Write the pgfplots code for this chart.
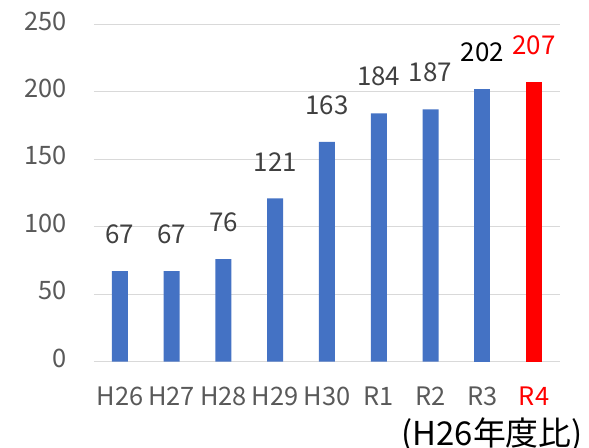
\documentclass[border=0pt]{standalone}
\usepackage{pgfplots}
\pgfplotsset{compat=1.18}
\usepackage{fontspec}
\setmainfont{Noto Sans CJK JP}
\definecolor{barblue}{HTML}{4472C4}
\definecolor{labgray}{HTML}{404040}
\definecolor{tickgray}{HTML}{595959}
\definecolor{gridgray}{HTML}{D9D9D9}

\begin{document}
\begin{tikzpicture}
\begin{axis}[
  at={(0,0)}, anchor=south west,
  scale only axis, width=466bp, height=337bp,
  xmin=-0.5, xmax=8.5, ymin=0, ymax=250,
  ybar, bar width=16bp, bar shift=0pt,
  xtick={0,...,8},
  xticklabels={H26,H27,H28,H29,H30,R1,R2,R3,{\textcolor{red}{R4}}},
  ytick={0,50,...,250},
  ymajorgrids, grid style={gridgray, line width=1bp},
  axis line style={draw=none}, major tick length=0pt,
  /pgf/number format/assume math mode=true,
  tick label style={font=\fontsize{25.5}{26}\selectfont, text=tickgray, inner sep=0pt},
  yticklabel style={anchor=east, xshift=-27bp, yshift=3.5bp},
  xticklabel style={anchor=base, yshift=-43.5bp},
  nodes near coords,
  every node near coord/.append style={font=\fontsize{26}{26}\selectfont, inner sep=0pt, yshift=27bp, anchor=south},
  clip=false,
]
% H26 - R2
\addplot[fill=barblue, draw=none, every node near coord/.append style={text=labgray}] coordinates
  {(0,67) (1,67) (2,76) (3,121) (4,163) (5,184) (6,187)};
% R3
\addplot[fill=barblue, draw=none, every node near coord/.append style={text=black}] coordinates
  {(7,202)};
% R4
\addplot[fill=red, draw=none, every node near coord/.append style={text=red}] coordinates
  {(8,207)};
\end{axis}
\node[anchor=base east, inner sep=0pt, font=\fontsize{33}{33}\selectfont] at (489bp,-83.5bp) {(H26年度比)};
\pgfresetboundingbox
\useasboundingbox (-94bp,-86.5bp) rectangle (495bp,361.5bp);
\end{tikzpicture}
\end{document}
